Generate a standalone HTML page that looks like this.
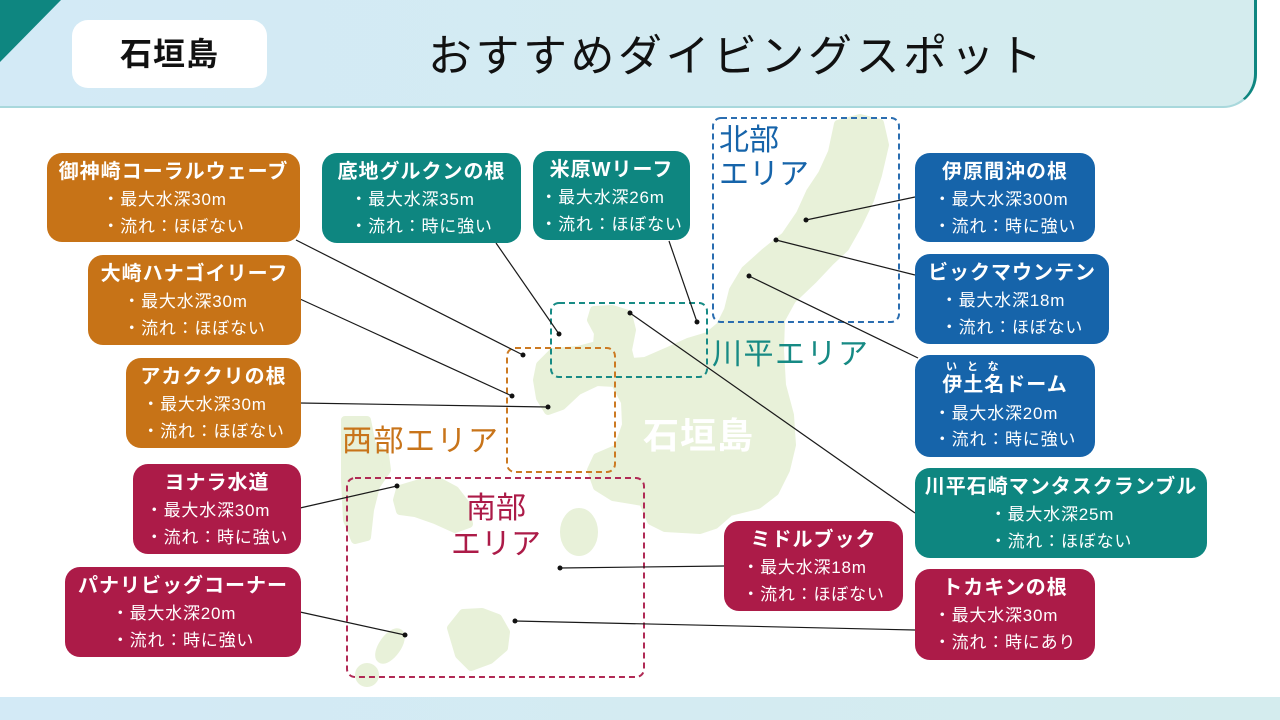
<!DOCTYPE html>
<html><head><meta charset="utf-8">
<style>
html,body{margin:0;padding:0;}
body{width:1280px;height:720px;position:relative;overflow:hidden;background:#fff;font-family:"Liberation Sans","Noto Sans CJK JP",sans-serif;}
.hdr{position:absolute;left:0;top:0;width:1257px;height:108px;box-sizing:border-box;background:linear-gradient(90deg,#d3eaf6,#d4ecee);border-right:3px solid #0e8680;border-bottom:2px solid #a8d8dc;border-bottom-right-radius:34px;}
.ftr{position:absolute;left:0;top:697px;width:1280px;height:23px;background:linear-gradient(90deg,#d3eaf6,#d4ecee);}
.lbl{position:absolute;left:72px;top:20px;width:195px;height:68px;background:#fff;border-radius:16px;text-align:center;line-height:68px;font-size:32px;font-weight:bold;color:#111;letter-spacing:1px;}
.ttl{position:absolute;left:428px;top:27px;height:60px;line-height:60px;font-size:44px;letter-spacing:3.5px;color:#111;white-space:nowrap;}
.box{position:absolute;border-radius:15px;color:#fff;text-align:center;padding-top:6px;box-sizing:border-box;}
.t{font-weight:bold;font-size:20px;line-height:27px;letter-spacing:1px;white-space:nowrap;}
.b{display:inline-block;text-align:left;font-size:17px;line-height:27px;letter-spacing:.8px;white-space:nowrap;}
.o{background:#c77317;}
.g{background:#0e8680;}
.bl{background:#1664aa;}
.r{background:#ac1b48;}
.area{position:absolute;font-size:30px;line-height:34px;white-space:nowrap;}
</style></head><body>
<div class="hdr"></div>
<svg style="position:absolute;left:0;top:0" width="70" height="70"><polygon points="0,0 61,0 0,62" fill="#0e8680"/></svg>
<div class="lbl">石垣島</div>
<div class="ttl">おすすめダイビングスポット</div>
<div class="ftr"></div>

<svg style="position:absolute;left:0;top:0" width="1280" height="720">
 <g fill="#e8f1d9" stroke="#e8f1d9" stroke-width="8" stroke-linejoin="round">
  <path d="M838,124 L860,118 L880,123 L885,145 L878,175 L870,200 L858,225 L845,248 L830,262 L813,280 L792,300 L781,320 L780,350 L782,385 L790,415 L792,445 L786,470 L775,492 L758,505 L730,512 L715,525 L700,530 L665,528 L651,521 L643,502 L613,497 L597,487 L591,470 L597,457 L618,448 L626,425 L625,402 L615,383 L597,382 L578,391 L562,406 L548,411 L540,398 L537,380 L540,365 L553,352 L578,350 L597,345 L598,333 L591,320 L594,310 L612,309 L628,314 L632,330 L628,350 L631,362 L645,361 L668,351 L688,342 L708,336 L720,326 L728,310 L733,290 L745,270 L765,252 L785,236 L800,214 L810,192 L822,174 L832,152 Z"/>
  <path d="M345,420 L367,420 L372,445 L385,455 L387,470 L376,486 L370,510 L367,537 L355,540 L347,520 L345,480 Z"/>
  <path d="M400,489 L420,483 L440,482 L455,490 L465,503 L469,524 L455,529 L435,520 L415,513 L400,511 L397,500 Z"/>
  <path d="M463,613 L482,612 L498,618 L506,632 L504,648 L490,660 L471,667 L459,655 L451,628 Z"/>
  <ellipse cx="579" cy="532" rx="15" ry="20"/>
  <ellipse cx="390" cy="646" rx="7" ry="16" transform="rotate(35 390 646)"/>
  <circle cx="367" cy="675" r="8"/>
 </g>
 <g fill="none" stroke-width="2" stroke-dasharray="6 4">
  <rect x="713" y="118" width="186" height="204" rx="8" stroke="#2a6db0"/>
  <rect x="551" y="303" width="156" height="74" rx="8" stroke="#178b85"/>
  <rect x="507" y="348" width="108" height="124" rx="8" stroke="#cc7a22"/>
  <rect x="347" y="478" width="297" height="199" rx="8" stroke="#b02a55"/>
 </g>
 <g stroke="#1a1a1a" stroke-width="1.2">
  <line x1="296" y1="240" x2="523" y2="355"/>
  <line x1="300" y1="299" x2="512" y2="396"/>
  <line x1="300" y1="403" x2="548" y2="407"/>
  <line x1="300" y1="508" x2="397" y2="486"/>
  <line x1="300" y1="612" x2="405" y2="635"/>
  <line x1="496" y1="243" x2="559" y2="334"/>
  <line x1="669" y1="241" x2="697" y2="322"/>
  <line x1="724" y1="566" x2="560" y2="568"/>
  <line x1="915" y1="630" x2="515" y2="621"/>
  <line x1="915" y1="513" x2="630" y2="313"/>
  <line x1="915" y1="197" x2="806" y2="220"/>
  <line x1="915" y1="275" x2="776" y2="240"/>
  <line x1="918" y1="358" x2="749" y2="276"/>
 </g>
 <g fill="#111">
  <circle cx="523" cy="355" r="2.5"/><circle cx="512" cy="396" r="2.5"/><circle cx="548" cy="407" r="2.5"/>
  <circle cx="397" cy="486" r="2.5"/><circle cx="405" cy="635" r="2.5"/><circle cx="559" cy="334" r="2.5"/>
  <circle cx="697" cy="322" r="2.5"/><circle cx="560" cy="568" r="2.5"/><circle cx="515" cy="621" r="2.5"/>
  <circle cx="630" cy="313" r="2.5"/><circle cx="806" cy="220" r="2.5"/><circle cx="776" cy="240" r="2.5"/>
  <circle cx="749" cy="276" r="2.5"/>
 </g>
</svg>

<div class="area" style="left:719px;top:124px;color:#1664aa;">北部</div>
<div class="area" style="left:719px;top:158px;color:#1664aa;">エリア</div>
<div class="area" style="left:712px;top:338px;color:#168a84;letter-spacing:1.5px;">川平エリア</div>
<div class="area" style="left:342px;top:425px;color:#c8741a;letter-spacing:1.5px;">西部エリア</div>
<div class="area" style="left:446px;top:492px;width:100px;text-align:center;color:#ac1b48;">南部</div>
<div class="area" style="left:446px;top:528px;width:100px;text-align:center;color:#ac1b48;">エリア</div>
<div class="area" style="left:643px;top:416px;font-size:36px;line-height:40px;font-weight:bold;color:#fff;letter-spacing:1px;">石垣島</div>

<div class="box o" style="left:47px;top:153px;width:253px;height:89px"><div class="t">御神崎コーラルウェーブ</div><div class="b"><div>・最大水深30m</div><div>・流れ：ほぼない</div></div></div>
<div class="box o" style="left:88px;top:255px;width:213px;height:90px"><div class="t">大崎ハナゴイリーフ</div><div class="b"><div>・最大水深30m</div><div>・流れ：ほぼない</div></div></div>
<div class="box o" style="left:126px;top:358px;width:175px;height:90px"><div class="t">アカククリの根</div><div class="b"><div>・最大水深30m</div><div>・流れ：ほぼない</div></div></div>
<div class="box g" style="left:322px;top:153px;width:199px;height:90px"><div class="t">底地グルクンの根</div><div class="b"><div>・最大水深35m</div><div>・流れ：時に強い</div></div></div>
<div class="box g" style="left:533px;top:151px;width:157px;height:89px"><div class="t">米原Wリーフ</div><div class="b"><div>・最大水深26m</div><div>・流れ：ほぼない</div></div></div>
<div class="box bl" style="left:915px;top:153px;width:180px;height:89px"><div class="t">伊原間沖の根</div><div class="b"><div>・最大水深300m</div><div>・流れ：時に強い</div></div></div>
<div class="box bl" style="left:915px;top:254px;width:194px;height:90px"><div class="t">ビックマウンテン</div><div class="b"><div>・最大水深18m</div><div>・流れ：ほぼない</div></div></div>
<div class="box bl" style="left:915px;top:355px;width:180px;height:102px;padding-top:17px">
 <div style="position:absolute;left:31px;top:5px;font-size:11px;line-height:14px;font-weight:bold;letter-spacing:10px;white-space:nowrap">いとな</div>
 <div class="t">伊土名ドーム</div><div class="b" style="line-height:26px;margin-top:2px"><div>・最大水深20m</div><div>・流れ：時に強い</div></div></div>
<div class="box g" style="left:915px;top:468px;width:292px;height:90px"><div class="t">川平石崎マンタスクランブル</div><div class="b"><div>・最大水深25m</div><div>・流れ：ほぼない</div></div></div>
<div class="box r" style="left:724px;top:521px;width:179px;height:90px"><div class="t">ミドルブック</div><div class="b"><div>・最大水深18m</div><div>・流れ：ほぼない</div></div></div>
<div class="box r" style="left:915px;top:569px;width:180px;height:91px"><div class="t">トカキンの根</div><div class="b"><div>・最大水深30m</div><div>・流れ：時にあり</div></div></div>
<div class="box r" style="left:133px;top:464px;width:168px;height:90px"><div class="t">ヨナラ水道</div><div class="b"><div>・最大水深30m</div><div>・流れ：時に強い</div></div></div>
<div class="box r" style="left:65px;top:567px;width:236px;height:90px"><div class="t">パナリビッグコーナー</div><div class="b"><div>・最大水深20m</div><div>・流れ：時に強い</div></div></div>
</body></html>
